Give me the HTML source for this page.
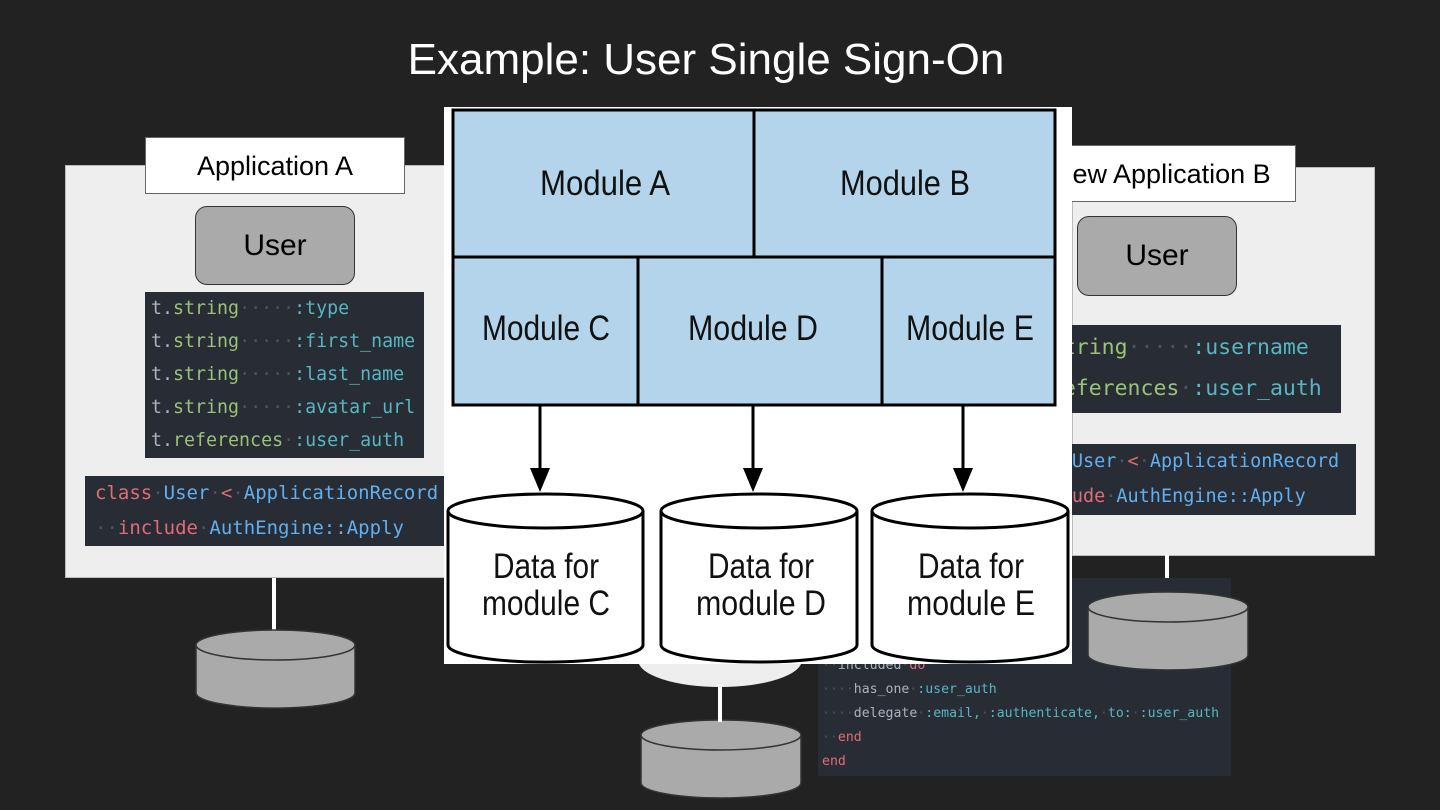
<!DOCTYPE html>
<html><head><meta charset="utf-8"><style>
body{margin:0;background:#222;}
.w{position:relative;width:1440px;height:810px;overflow:hidden;background:#222;font-family:"Liberation Sans",sans-serif;}
.a{position:absolute;}
.code{position:absolute;background:#282c34;font-family:"DejaVu Sans Mono","Liberation Mono",monospace;white-space:pre;overflow:hidden;}
.g{color:#98c379}.c{color:#56b6c2}.b{color:#61afef}.r{color:#e06c75}.t{color:#abb2bf}.d{color:#4b5263}
</style></head><body><div class="w">
<div class="a" style="left:0;top:35px;width:1412px;text-align:center;color:#fff;font-size:44px">Example: User Single Sign-On</div>

<!-- left panel -->
<div class="a" style="left:65px;top:165px;width:380px;height:413px;background:#eee;border:1px solid #bbb;box-sizing:border-box"></div>
<div class="a" style="left:145px;top:137px;width:260px;height:57px;background:#fff;border:1px solid #666;box-sizing:border-box;font-size:27px;text-align:center;line-height:57px">Application A</div>
<div class="a" style="left:195px;top:206px;width:160px;height:79px;background:#aaa;border:1.5px solid #333;border-radius:12px;box-sizing:border-box;font-size:30px;text-align:center;line-height:77px">User</div>
<div class="code" style="left:145px;top:292px;width:279px;height:166px;font-size:18.3px;line-height:33px;padding:0 6px;box-sizing:border-box"><span class="t">t.</span><span class="g">string</span><span class="d">·····</span><span class="c">:type</span>
<span class="t">t.</span><span class="g">string</span><span class="d">·····</span><span class="c">:first_name</span>
<span class="t">t.</span><span class="g">string</span><span class="d">·····</span><span class="c">:last_name</span>
<span class="t">t.</span><span class="g">string</span><span class="d">·····</span><span class="c">:avatar_url</span>
<span class="t">t.</span><span class="g">references</span><span class="d">·</span><span class="c">:user_auth</span></div>
<div class="code" style="left:85px;top:476px;width:360px;height:70px;font-size:19px;line-height:35px;padding:0 10px;box-sizing:border-box"><span class="r">class</span><span class="d">·</span><span class="b">User</span><span class="d">·</span><span class="r">&lt;</span><span class="d">·</span><span class="b">ApplicationRecord</span>
<span class="d">··</span><span class="r">include</span><span class="d">·</span><span class="b">AuthEngine::Apply</span></div>
<div class="a" style="left:272px;top:578px;width:4px;height:54px;background:#fff"></div>

<!-- right panel -->
<div class="a" style="left:1072px;top:167px;width:303px;height:389px;background:#eee;border:1px solid #bbb;box-sizing:border-box"></div>
<div class="a" style="left:1030px;top:145px;width:266px;height:57px;background:#fff;border:1px solid #666;box-sizing:border-box;font-size:27px;line-height:57px;padding-left:22px;white-space:nowrap">New Application B</div>
<div class="a" style="left:1077px;top:216px;width:160px;height:80px;background:#aaa;border:1.5px solid #333;border-radius:12px;box-sizing:border-box;font-size:30px;text-align:center;line-height:78px">User</div>
<div class="code" style="left:1010px;top:325px;width:331px;height:88px;font-size:21.5px;line-height:41px;padding:2px 0 0 14px;box-sizing:border-box"><span class="t">t.</span><span class="g">string</span><span class="d">·····</span><span class="c">:username</span>
<span class="t">t.</span><span class="g">references</span><span class="d">·</span><span class="c">:user_auth</span></div>
<div class="code" style="left:1000px;top:444px;width:356px;height:71px;font-size:18.5px;line-height:35px;padding:0 0 0 5px;box-sizing:border-box"><span class="r">class</span><span class="d">·</span><span class="b">User</span><span class="d">·</span><span class="r">&lt;</span><span class="d">·</span><span class="b">ApplicationRecord</span>
<span class="d">··</span><span class="r">include</span><span class="d">·</span><span class="b">AuthEngine::Apply</span></div>
<div class="a" style="left:1165px;top:555px;width:4px;height:40px;background:#fff"></div>

<!-- bottom code -->
<div class="code" style="left:818px;top:578px;width:413px;height:198px;font-size:13.2px;line-height:24px;padding:76px 0 0 4px;box-sizing:border-box"><span class="d">··</span><span class="t">included</span><span class="d">·</span><span class="r">do</span>
<span class="d">····</span><span class="t">has_one</span><span class="d">·</span><span class="c">:user_auth</span>
<span class="d">····</span><span class="t">delegate</span><span class="d">·</span><span class="c">:email,</span><span class="d">·</span><span class="c">:authenticate,</span><span class="d">·</span><span class="c">to:</span><span class="d">·</span><span class="c">:user_auth</span>
<span class="d">··</span><span class="r">end</span>
<span class="r">end</span></div>

<svg class="a" style="left:0;top:0" width="1440" height="810">
<g fill="#aaa" stroke="#333" stroke-width="1.5">
<path d="M196 645 v48 a79 15 0 0 0 159 0 v-48"/><ellipse cx="275.5" cy="645" rx="79.5" ry="15"/>
<path d="M1088 607 v48 a80 15 0 0 0 160 0 v-48"/><ellipse cx="1168" cy="607" rx="80" ry="15"/>
<path d="M641 735 v48 a80 15 0 0 0 160 0 v-48"/><ellipse cx="721" cy="735" rx="80" ry="15"/>
</g>
<ellipse cx="720" cy="660" rx="82" ry="27" fill="#eee"/>
<rect x="718" y="684" width="4" height="38" fill="#fff"/>
</svg>

<!-- center diagram -->
<svg class="a" style="left:444px;top:107px" width="628" height="557" viewBox="444 107 628 557">
<rect x="444" y="107" width="628" height="557" fill="#fff"/>
<rect x="453" y="110" width="602" height="295" fill="#b3d4ea" stroke="#000" stroke-width="3"/>
<g stroke="#000" stroke-width="3">
<line x1="453" y1="257" x2="1055" y2="257"/>
<line x1="754" y1="110" x2="754" y2="257"/>
<line x1="638" y1="257" x2="638" y2="405"/>
<line x1="882" y1="257" x2="882" y2="405"/>
<line x1="540" y1="405" x2="540" y2="470"/>
<line x1="753" y1="405" x2="753" y2="470"/>
<line x1="963" y1="405" x2="963" y2="470"/>
</g>
<g fill="#000"><path d="M530 468 h20 l-10 24z"/><path d="M743 468 h20 l-10 24z"/><path d="M953 468 h20 l-10 24z"/></g>
<g fill="#fff" stroke="#000" stroke-width="3">
<path d="M448 511 v134 a97 17 0 0 0 195 0 v-134"/><ellipse cx="545.5" cy="511" rx="97.5" ry="17"/>
<path d="M661 511 v134 a98 17 0 0 0 196 0 v-134"/><ellipse cx="759" cy="511" rx="98" ry="17"/>
<path d="M872 511 v134 a98 17 0 0 0 196 0 v-134"/><ellipse cx="970" cy="511" rx="98" ry="17"/>
</g>
<g font-family="Liberation Sans Narrow,Liberation Sans,sans-serif" font-size="35" text-anchor="middle" fill="#111">
<text x="605" y="195" textLength="130" lengthAdjust="spacingAndGlyphs">Module A</text>
<text x="905" y="195" textLength="130" lengthAdjust="spacingAndGlyphs">Module B</text>
<text x="546" y="340" textLength="128" lengthAdjust="spacingAndGlyphs">Module C</text>
<text x="753" y="340" textLength="130" lengthAdjust="spacingAndGlyphs">Module D</text>
<text x="970" y="340" textLength="128" lengthAdjust="spacingAndGlyphs">Module E</text>
<text x="546" y="578" textLength="106" lengthAdjust="spacingAndGlyphs">Data for</text>
<text x="546" y="615" textLength="128" lengthAdjust="spacingAndGlyphs">module C</text>
<text x="761" y="578" textLength="106" lengthAdjust="spacingAndGlyphs">Data for</text>
<text x="761" y="615" textLength="130" lengthAdjust="spacingAndGlyphs">module D</text>
<text x="971" y="578" textLength="106" lengthAdjust="spacingAndGlyphs">Data for</text>
<text x="971" y="615" textLength="128" lengthAdjust="spacingAndGlyphs">module E</text>
</g>
</svg>
</div></body></html>
